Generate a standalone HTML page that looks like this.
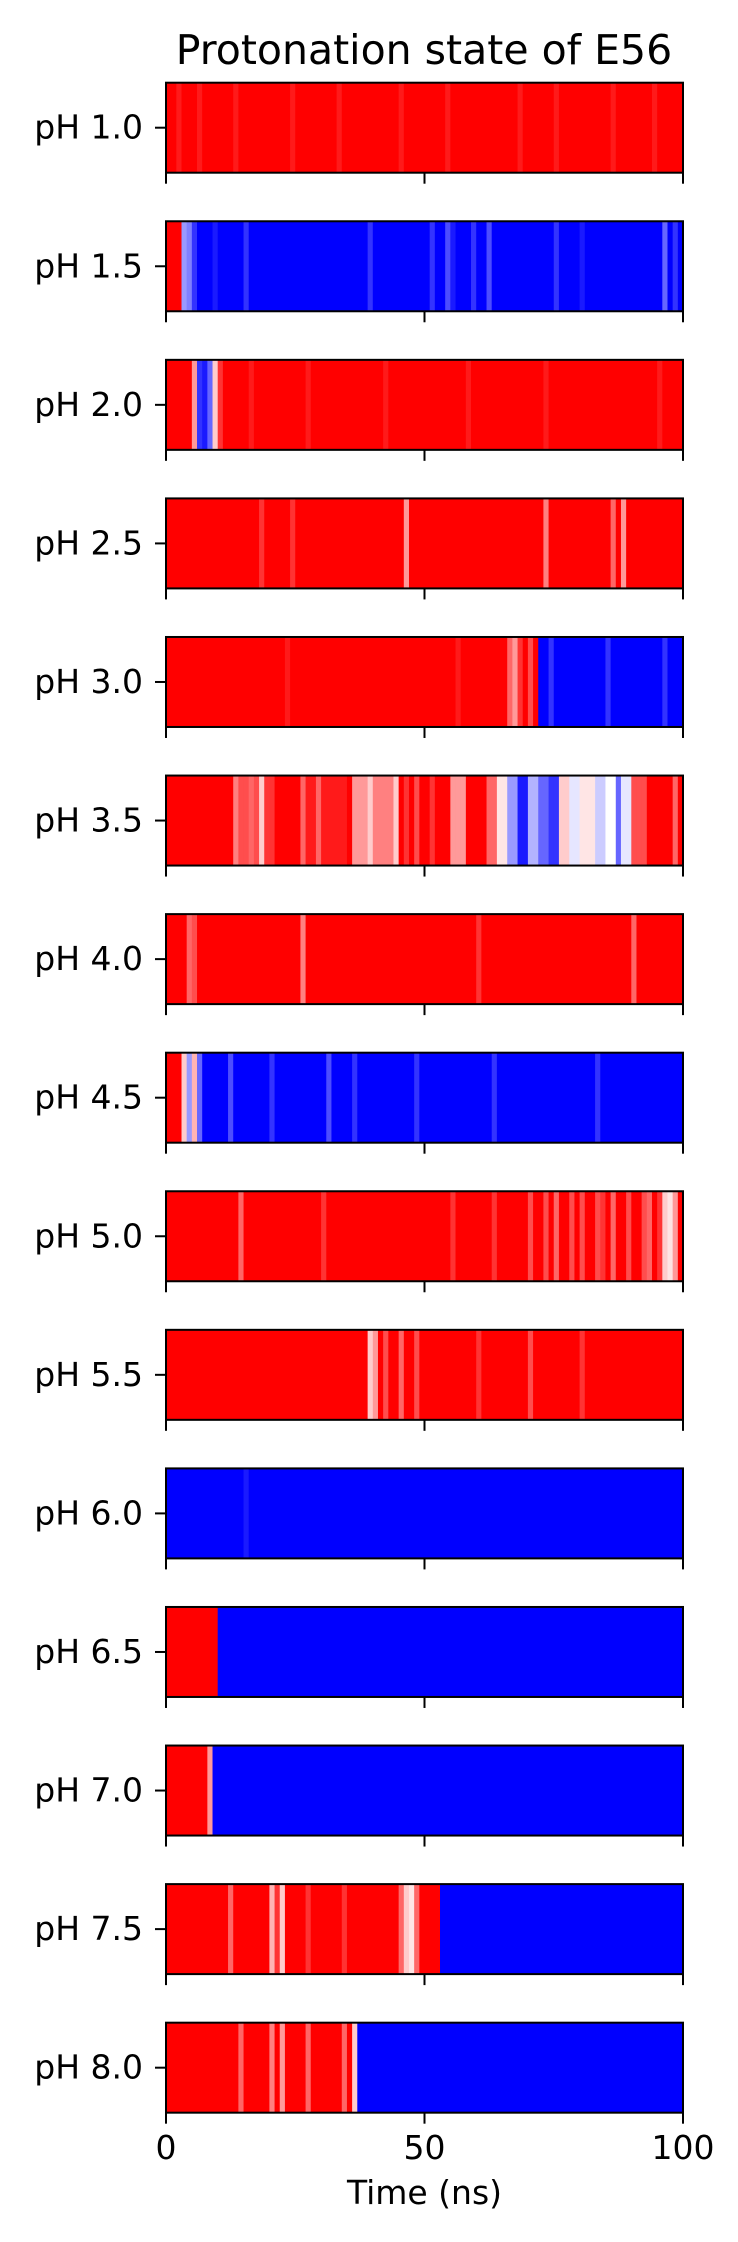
<!DOCTYPE html>
<html><head><meta charset="utf-8"><style>
html,body{margin:0;padding:0;background:#fff;}
svg{display:block;font-family:"DejaVu Sans","Liberation Sans",sans-serif;}
</style></head><body>
<svg id="fig" width="738" height="2242" viewBox="0 0 738 2242" xmlns="http://www.w3.org/2000/svg">
<text x="424" y="64" font-size="41" text-anchor="middle">Protonation state of E56</text>
</svg>
<script>
const phLabels = ["pH 1.0","pH 1.5","pH 2.0","pH 2.5","pH 3.0","pH 3.5","pH 4.0","pH 4.5","pH 5.0","pH 5.5","pH 6.0","pH 6.5","pH 7.0","pH 7.5","pH 8.0"];
const xTicks = [0,50,100];
const xTickLabels = ["0","50","100"];
const r10 = [1,1,0.95,1,1,1,0.95,1,1,1, 1,1,1,0.95,1,1,1,1,1,1, 1,1,1,1,0.95,1,1,1,1,1, 1,1,1,0.95,1,1,1,1,1,1, 1,1,1,1,1,0.95,1,1,1,1, 1,1,1,1,0.95,1,1,1,1,1, 1,1,1,1,1,1,1,1,0.95,1, 1,1,1,1,1,0.95,1,1,1,1, 1,1,1,1,1,1,0.95,1,1,1, 1,1,1,1,0.95,1,1,1,1,1];
const r15 = [1,1,1,0.3,0.25,0.1,0,0,0,0.05, 0,0,0,0,0,0.1,0,0,0,0, 0,0,0,0,0,0,0,0,0,0, 0,0,0,0,0,0,0,0,0,0.1, 0,0,0,0,0,0,0,0,0,0, 0,0.1,0,0,0.15,0.05,0,0,0,0.1, 0,0,0.15,0,0,0,0,0,0,0, 0,0,0,0,0,0.1,0,0,0,0, 0.05,0,0,0,0,0,0,0,0,0, 0,0,0,0,0,0,0.2,0,0.1,0];
const r20 = [1,1,1,1,1,0.7,0.1,0.05,0.2,0.6, 0.9,1,1,1,1,1,0.95,1,1,1, 1,1,1,1,1,1,1,0.95,1,1, 1,1,1,1,1,1,1,1,1,1, 1,1,0.95,1,1,1,1,1,1,1, 1,1,1,1,1,1,1,1,0.95,1, 1,1,1,1,1,1,1,1,1,1, 1,1,1,0.95,1,1,1,1,1,1, 1,1,1,1,1,1,1,1,1,1, 1,1,1,1,1,0.95,1,1,1,1];
const r25 = [1,1,1,1,1,1,1,1,1,1, 1,1,1,1,1,1,1,1,0.9,1, 1,1,1,1,0.9,1,1,1,1,1, 1,1,1,1,1,1,1,1,1,1, 1,1,1,1,1,1,0.7,1,1,1, 1,1,1,1,1,1,1,1,1,1, 1,1,1,1,1,1,1,1,1,1, 1,1,1,0.75,1,1,1,1,1,1, 1,1,1,1,1,1,0.8,1,0.7,1, 1,1,1,1,1,1,1,1,1,1];
const r30 = [1,1,1,1,1,1,1,1,1,1, 1,1,1,1,1,1,1,1,1,1, 1,1,1,0.95,1,1,1,1,1,1, 1,1,1,1,1,1,1,1,1,1, 1,1,1,1,1,1,1,1,1,1, 1,1,1,1,1,1,0.95,1,1,1, 1,1,1,1,1,1,0.8,0.7,0.9,1, 0.85,1,0,0,0.1,0,0,0,0,0, 0,0,0,0,0,0.1,0,0,0,0, 0,0,0,0,0,0,0.1,0,0,0];
const r35 = [1,1,1,1,1,1,1,1,1,1, 1,1,1,0.75,0.85,0.85,0.8,0.85,0.6,0.9, 0.9,1,1,1,1,1,0.8,0.95,0.95,0.8, 0.95,0.95,0.95,0.95,0.95,1,0.7,0.7,0.7,0.6, 0.75,0.75,0.75,0.75,0.6,1,0.9,1,0.85,1, 1,0.9,1,1,1,0.7,0.7,0.7,1,1, 1,1,0.8,0.8,0.55,0.55,0.3,0.3,0.05,0.05, 0.35,0.35,0.2,0.2,0.1,0.1,0.6,0.6,0.45,0.45, 0.55,0.55,0.55,0.4,0.4,0.5,0.5,0.2,0.45,0.45, 0.85,0.85,0.85,1,1,1,1,1,0.8,1];
const r40 = [1,1,1,1,0.8,0.85,1,1,1,1, 1,1,1,1,1,1,1,1,1,1, 1,1,1,1,1,1,0.75,1,1,1, 1,1,1,1,1,1,1,1,1,1, 1,1,1,1,1,1,1,1,1,1, 1,1,1,1,1,1,1,1,1,1, 0.9,1,1,1,1,1,1,1,1,1, 1,1,1,1,1,1,1,1,1,1, 1,1,1,1,1,1,1,1,1,1, 0.8,1,1,1,1,1,1,1,1,1];
const r45 = [1,1,1,0.6,0.3,0.65,0.2,0,0,0, 0,0,0.15,0,0,0,0,0,0,0, 0.1,0,0,0,0,0,0,0,0,0, 0,0.15,0,0,0,0,0.1,0,0,0, 0,0,0,0,0,0,0,0,0.1,0, 0,0,0,0,0,0,0,0,0,0, 0,0,0,0.1,0,0,0,0,0,0, 0,0,0,0,0,0,0,0,0,0, 0,0,0,0.1,0,0,0,0,0,0, 0,0,0,0,0,0,0,0,0,0];
const r50 = [1,1,1,1,1,1,1,1,1,1, 1,1,1,1,0.8,1,1,1,1,1, 1,1,1,1,1,1,1,1,1,1, 0.9,1,1,1,1,1,1,1,1,1, 1,1,1,1,1,1,1,1,1,1, 1,1,1,1,1,0.9,1,1,1,1, 1,1,1,0.9,1,1,1,1,1,1, 0.85,1,1,0.85,1,0.8,1,1,0.85,1, 0.85,1,1,0.85,0.9,1,0.8,1,1,0.85, 1,1,0.85,0.8,1,0.9,0.6,0.55,0.7,1];
const r55 = [1,1,1,1,1,1,1,1,1,1, 1,1,1,1,1,1,1,1,1,1, 1,1,1,1,1,1,1,1,1,1, 1,1,1,1,1,1,1,1,1,0.6, 0.7,1,0.85,1,1,0.8,1,1,0.85,1, 1,1,1,1,1,1,1,1,1,1, 0.9,1,1,1,1,1,1,1,1,1, 0.85,1,1,1,1,1,1,1,1,1, 0.9,1,1,1,1,1,1,1,1,1, 1,1,1,1,1,1,1,1,1,1];
const r60 = [0,0,0,0,0,0,0,0,0,0, 0,0,0,0,0,0.05,0,0,0,0, 0,0,0,0,0,0,0,0,0,0, 0,0,0,0,0,0,0,0,0,0, 0,0,0,0,0,0,0,0,0,0, 0,0,0,0,0,0,0,0,0,0, 0,0,0,0,0,0,0,0,0,0, 0,0,0,0,0,0,0,0,0,0, 0,0,0,0,0,0,0,0,0,0, 0,0,0,0,0,0,0,0,0,0];
const r65 = [1,1,1,1,1,1,1,1,1,1, 0,0,0,0,0,0,0,0,0,0, 0,0,0,0,0,0,0,0,0,0, 0,0,0,0,0,0,0,0,0,0, 0,0,0,0,0,0,0,0,0,0, 0,0,0,0,0,0,0,0,0,0, 0,0,0,0,0,0,0,0,0,0, 0,0,0,0,0,0,0,0,0,0, 0,0,0,0,0,0,0,0,0,0, 0,0,0,0,0,0,0,0,0,0];
const r70 = [1,1,1,1,1,1,1,1,0.7,0, 0,0,0,0,0,0,0,0,0,0, 0,0,0,0,0,0,0,0,0,0, 0,0,0,0,0,0,0,0,0,0, 0,0,0,0,0,0,0,0,0,0, 0,0,0,0,0,0,0,0,0,0, 0,0,0,0,0,0,0,0,0,0, 0,0,0,0,0,0,0,0,0,0, 0,0,0,0,0,0,0,0,0,0, 0,0,0,0,0,0,0,0,0,0];
const r75 = [1,1,1,1,1,1,1,1,1,1, 1,1,0.8,1,1,1,1,1,1,1, 0.65,0.9,0.6,1,1,1,1,0.9,1,1, 1,1,1,1,0.9,1,1,1,1,1, 1,1,1,1,1,0.8,0.6,0.55,0.8,1, 1,1,1,0,0,0,0,0,0,0, 0,0,0,0,0,0,0,0,0,0, 0,0,0,0,0,0,0,0,0,0, 0,0,0,0,0,0,0,0,0,0, 0,0,0,0,0,0,0,0,0,0];
const r80 = [1,1,1,1,1,1,1,1,1,1, 1,1,1,1,0.8,1,1,1,1,1, 0.75,1,0.7,1,1,1,1,0.8,1,1, 1,1,1,1,0.8,1,0.6,0,0,0, 0,0,0,0,0,0,0,0,0,0, 0,0,0,0,0,0,0,0,0,0, 0,0,0,0,0,0,0,0,0,0, 0,0,0,0,0,0,0,0,0,0, 0,0,0,0,0,0,0,0,0,0, 0,0,0,0,0,0,0,0,0,0];
const rows = [r10,r15,r20,r25,r30,r35,r40,r45,r50,r55,r60,r65,r70,r75,r80];

const NS = "http://www.w3.org/2000/svg";
const svg = document.getElementById("fig");
const X0 = 166, X1 = 683, T0 = 82.7, STEP = 138.57, H = 90;
const xScale = t => X0 + (t/100)*(X1-X0);
function bwr(v){
  let r,g,b;
  if(v<0.5){r=g=Math.round(510*v);b=255;}else{r=255;g=b=Math.round(510*(1-v));}
  return `rgb(${r},${g},${b})`;
}
function mk(tag, attrs){const e=document.createElementNS(NS,tag);for(const k in attrs)e.setAttribute(k,attrs[k]);svg.appendChild(e);return e;}

rows.forEach((vals,i)=>{
  const top = T0 + i*STEP;
  const n = vals.length;
  vals.forEach((v,j)=>{
    const x = xScale(j*100/n), x2 = xScale((j+1)*100/n);
    const c = mk("rect",{x:x,y:top,width:x2-x+0.6,height:H,fill:bwr(v)});
    
    
  });
  const fr = mk("rect",{x:X0,y:top,width:X1-X0,height:H,fill:"none",stroke:"#000","stroke-width":2});
  
  
  const yt = mk("line",{x1:X0-11,x2:X0,y1:top+H/2,y2:top+H/2,stroke:"#000","stroke-width":2});
  
  
  const lb = mk("text",{x:143,y:top+H/2+11,"font-size":33,"text-anchor":"end"});
  lb.textContent = phLabels[i];
  
  
  xTicks.forEach(t=>{
    const xt = mk("line",{x1:xScale(t),x2:xScale(t),y1:top+H,y2:top+H+11,stroke:"#000","stroke-width":2});
    
    
  });
});
xTicks.forEach((t,k)=>{
  const tl = mk("text",{x:xScale(t),y:2159,"font-size":33,"text-anchor":"middle"});
  tl.textContent = xTickLabels[k];
  
  
});
const xl = mk("text",{x:424.5,y:2204,"font-size":33,"text-anchor":"middle"});
xl.textContent = "Time (ns)";


</script>
</body></html>
